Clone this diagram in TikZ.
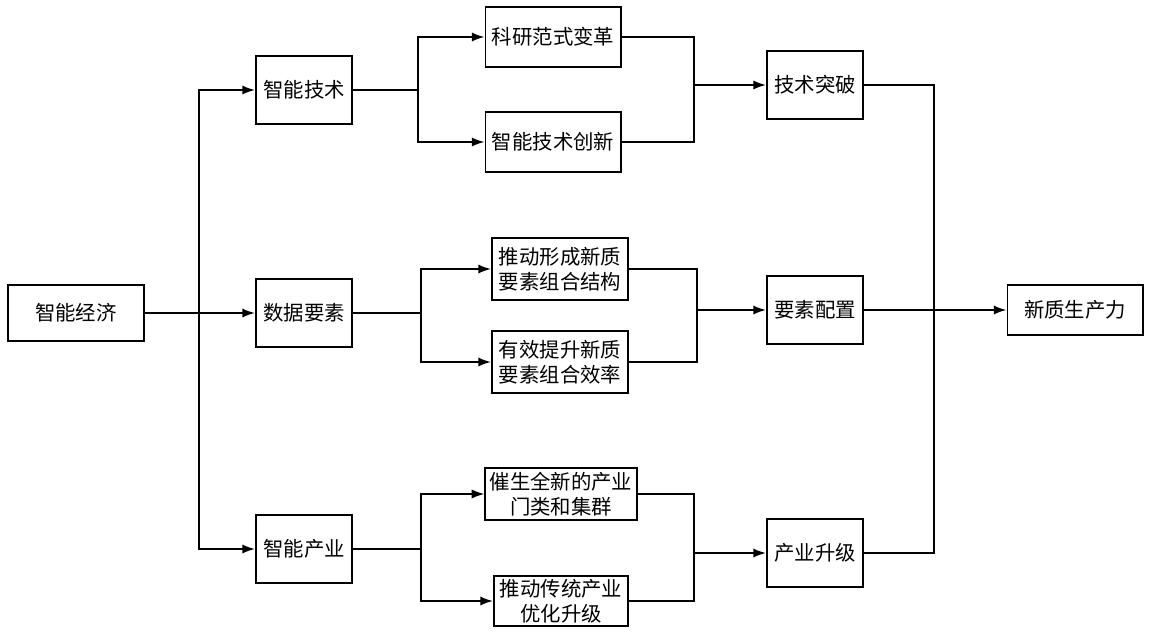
\documentclass[tikz,border=0pt]{standalone}
\usepackage{fontspec}
\setmainfont{Noto Sans CJK SC}
\usetikzlibrary{arrows.meta}
\tikzset{
  box/.style={rectangle, draw=black, line width=1.4pt, text centered, align=center, inner sep=0, font=\fontsize{14.5}{17.5}\selectfont},
  short/.style={box, minimum width=2.4cm, minimum height=1.68cm},
  long/.style={box, minimum width=3.375cm, minimum height=1.5cm},
  link/.style={line width=1.2pt, -{Latex[length=9pt,width=6.5pt]}},
  line/.style={line width=1.2pt}
}

\begin{document}
\begin{tikzpicture}[x=0.025cm, y=-0.025cm]
      \useasboundingbox (0, 0) rectangle (1153, 632);

      \node[long, minimum height=1.4cm](jj) at (76, 313){智能经济};

      \node[short](zj) at (304, 90){智能技术};
      \node[short](sj) at (304, 313){数据要素};
      \node[short](zc) at (304, 549){智能产业};

      \node[long](ky) at (553, 37){科研范式变革};
      \node[long](cx) at (553, 142){智能技术创新};
      \node[long, minimum width=3.4cm, minimum height=1.55cm](tx) at (560, 269){推动形成新质\\要素组合结构};
      \node[long, minimum width=3.4cm, minimum height=1.55cm](yx) at (560, 362){有效提升新质\\要素组合效率};
      \node[long, minimum width=3.78cm, minimum height=1.28cm](cs) at (561, 494){催生全新的产业\\门类和集群};
      \node[long, minimum width=3.35cm, minimum height=1.25cm](ct) at (561, 601){推动传统产业\\优化升级};

      \node[short](tp) at (815, 85){技术突破};
      \node[short](yp) at (815, 310){要素配置};
      \node[short](cj) at (815, 553){产业升级};

      \node[long, minimum height=1.23cm](xz) at (1075, 310){新质生产力};

      % 智能经济 -> three branches
      \coordinate (b1) at (199, 313);
      \draw[line](jj.east)--(b1);
      \draw[link](b1)--(sj.west);
      \draw[link](b1)|-(zj.west);
      \draw[link](b1)|-(zc.west);

      % second level splits
      \coordinate (b2) at (418, 90);
      \draw[line](zj.east)--(b2);
      \draw[link](b2)|-(ky.west);
      \draw[link](b2)|-(cx.west);

      \coordinate (b3) at (421, 313);
      \draw[line](sj.east)--(b3);
      \draw[link](b3)|-(tx.west);
      \draw[link](b3)|-(yx.west);

      \coordinate (b4) at (421, 549);
      \draw[line](zc.east)--(b4);
      \draw[link](b4)|-(cs.west);
      \draw[link](b4)|-(ct.west);

      % merges
      \coordinate (m1) at (694, 85);
      \draw[line](ky.east)-|(m1)|-(cx.east);
      \draw[link](m1)--(tp.west);

      \coordinate (m2) at (697, 310);
      \draw[line](tx.east)-|(m2)|-(yx.east);
      \draw[link](m2)--(yp.west);

      \coordinate (m3) at (694, 553);
      \draw[line](cs.east)-|(m3)|-(ct.east);
      \draw[link](m3)--(cj.west);

      % to 新质生产力
      \coordinate (m4) at (934, 310);
      \draw[line](tp.east)-|(m4)|-(cj.east);
      \draw[link](yp.east)--(xz.west);
\end{tikzpicture}
\end{document}
